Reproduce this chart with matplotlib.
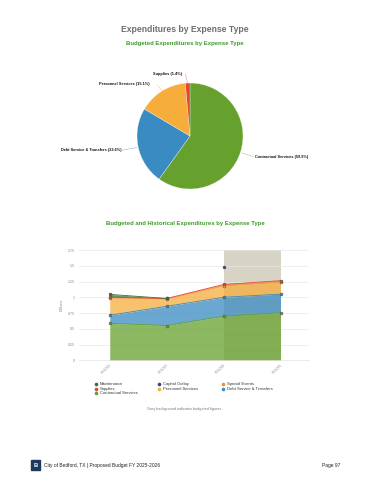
import numpy as np
import matplotlib
matplotlib.use("Agg")
import matplotlib.pyplot as plt
from matplotlib.patches import Rectangle

plt.rcParams['font.family'] = ['Liberation Sans', 'DejaVu Sans']

# ---------------- data ----------------
pie_labels = ["Contractual Services", "Debt Service & Transfers", "Personnel Services", "Supplies"]
pie_values = [59.9, 23.6, 15.1, 1.4]

years = ["FY2022", "FY2023", "FY2024", "FY2025"]
contractual = [0.587, 0.552, 0.700, 0.755]
debt_service = [0.128, 0.305, 0.300, 0.295]
personnel = [0.278, 0.118, 0.185, 0.195]
supplies = [0.008, 0.006, 0.018, 0.018]
maintenance = [0.045, 0.0, np.nan, np.nan]
capital_outlay = [np.nan, np.nan, 0.270, np.nan]
special_events = [np.nan, np.nan, np.nan, np.nan]
budget_years = ["FY2024", "FY2025"]
y_ticks = [0, 0.25, 0.5, 0.75, 1, 1.25, 1.5, 1.75]
y_tick_labels = ["0", "0.25", "0.5", "0.75", "1", "1.25", "1.5", "1.75"]

colors = {
    "Maintenance": "#3c6e2f",
    "Supplies": "#e4472f",
    "Contractual Services": "#66a12d",
    "Capital Outlay": "#2e4c6d",
    "Personnel Services": "#f6ad3c",
    "Special Events": "#ef8f3d",
    "Debt Service & Transfers": "#3a8bc2",
}

W, H = 370, 480
fig = plt.figure(figsize=(W / 100, H / 100), dpi=100)
fig.patch.set_facecolor("white")

def fr(x0, y0, x1, y1):
    return [x0 / W, 1 - y1 / H, (x1 - x0) / W, (y1 - y0) / H]

# ---------------- overlay (pixel coordinates) ----------------
ov = fig.add_axes([0, 0, 1, 1], zorder=5)
ov.set_xlim(0, W)
ov.set_ylim(H, 0)
ov.axis("off")

ov.text(185, 30, "Expenditures by Expense Type", ha="center", va="center",
        fontsize=6.2, fontweight="bold", color="#6e6e70")
ov.text(185, 44, "Budgeted Expenditures by Expense Type", ha="center", va="center",
        fontsize=4.3, fontweight="bold", color="#3f9b2c")
ov.text(185, 224, "Budgeted and Historical Expenditures by Expense Type", ha="center", va="center",
        fontsize=4.3, fontweight="bold", color="#3f9b2c")

# ---------------- pie ----------------
cx, cy, r = 190, 136, 53
axp = fig.add_axes(fr(cx - r, cy - r, cx + r, cy + r))
pie_cols = [colors[l] for l in pie_labels]
axp.pie(pie_values, colors=pie_cols, startangle=90, counterclock=False,
        wedgeprops=dict(linewidth=0.2, edgecolor="white"))
axp.set_xlim(-1, 1)
axp.set_ylim(-1, 1)
axp.set_aspect("equal")
axp.axis("off")

pie_annot = [
    (0, (242, 153), (253, 156.5), (255, 157), "left"),
    (1, (137, 147.5), (123, 150), (122, 150.3), "right"),
    (2, (163, 91.5), (157, 85), (150, 84.3), "right"),
    (3, (187.5, 83), (185.5, 74), (182, 74.3), "right"),
]
for i, p0, p1, tp, ha in pie_annot:
    ov.plot([p0[0], p1[0]], [p0[1], p1[1]], color=pie_cols[i], lw=0.4, alpha=0.6)
    ov.text(tp[0], tp[1], f"{pie_labels[i]} ({pie_values[i]:.1f}%)", ha=ha, va="center",
            fontsize=2.8, color="#111111", fontweight="bold")

# ---------------- stacked area chart ----------------
ax = fig.add_axes(fr(79, 250, 309, 360.3))
x = np.arange(len(years))
series = [
    ("Contractual Services", contractual),
    ("Debt Service & Transfers", debt_service),
    ("Personnel Services", personnel),
    ("Supplies", supplies),
    ("Maintenance", maintenance),
    ("Capital Outlay", capital_outlay),
    ("Special Events", special_events),
]
b_idx = [years.index(y) for y in budget_years]
ax.axvspan(b_idx[0], b_idx[1], ymin=0, ymax=1, color="#d7d4c5", zorder=0, lw=0)

base = np.zeros(len(years))
for z, (name, vals) in enumerate(series):
    v = np.array(vals, dtype=float)
    top = base + np.nan_to_num(v)
    c = colors[name]
    valid = ~np.isnan(v)
    if valid.sum() >= 2:
        ax.fill_between(x, base, top, where=valid, color=c, alpha=0.75, lw=0, zorder=2 + z)
        ax.plot(x[valid], top[valid], color=c, lw=0.6, zorder=10 + z)
    if valid.any():
        ax.plot(x[valid], top[valid], ls="none", marker="o", ms=2.1, mfc=c,
                mec="#4a4a4a", mew=0.35, zorder=20 + z)
    base = top

ax.set_xlim(-0.54, 3.5)
ax.set_ylim(0, 1.75)
ax.set_yticks(y_ticks)
ax.set_yticklabels(y_tick_labels, fontsize=2.6, color="#888888")
ax.yaxis.grid(True, color="#e8e8e8", lw=0.5, zorder=1)
ax.set_axisbelow(True)
ax.tick_params(axis="both", length=0, pad=3)
ax.set_xticks(x)
ax.set_xticklabels(years, rotation=45, ha="right", va="top", rotation_mode="anchor",
                   fontsize=2.6, color="#888888")
ax.tick_params(axis="x", pad=2)
for s in ["top", "right", "left"]:
    ax.spines[s].set_visible(False)
ax.spines["bottom"].set_color("#e2e2e2")
ax.spines["bottom"].set_linewidth(0.5)
ax.set_ylabel("Millions", fontsize=2.6, color="#888888", labelpad=3)
ax.set_facecolor("none")

# ---------------- legend ----------------
legend_items = [
    ("Maintenance", 96, 384), ("Supplies", 96, 388.7), ("Contractual Services", 96, 393.3),
    ("Capital Outlay", 159, 384), ("Personnel Services", 159, 388.7),
    ("Special Events", 223, 384), ("Debt Service & Transfers", 223, 388.7),
]
for name, lx, ly in legend_items:
    ov.plot([lx], [ly], marker="o", ms=2.6, color=colors[name], mec="none")
    ov.text(lx + 4, ly, name, ha="left", va="center", fontsize=3.0, color="#333333")

ov.text(185, 409, "Grey background indicates budgeted figures.", ha="center", va="center",
        fontsize=2.7, color="#777777")

# ---------------- footer ----------------
ov.add_patch(Rectangle((30.5, 460), 9.5, 10, color="#1d3a5c"))
ov.text(35.3, 465.2, "B", ha="center", va="center", fontsize=4.2, fontweight="bold", color="white")
ov.text(44, 465.2, "City of Bedford, TX | Proposed Budget FY 2025-2026", ha="left", va="center",
        fontsize=3.5, color="#222222")
ov.text(340.5, 465.2, "Page 97", ha="right", va="center", fontsize=3.5, color="#222222")

fig.savefig("out.png", dpi=100, facecolor="white")
